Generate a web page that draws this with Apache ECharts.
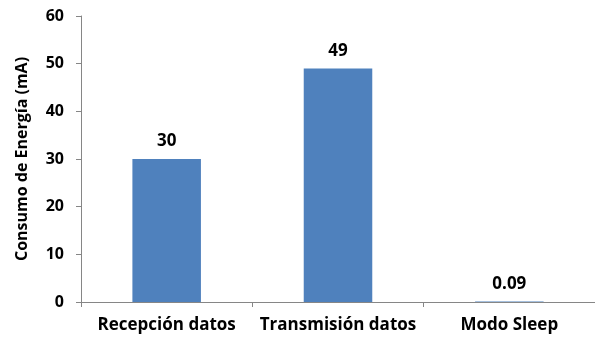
<!DOCTYPE html>
<html>
<head>
<meta charset="utf-8">
<script src="https://cdn.jsdelivr.net/npm/echarts@6/dist/echarts.min.js"></script>
<style>
  html, body { margin: 0; padding: 0; background: #fff; }
  #chart { width: 595px; height: 338px; }
</style>
</head>
<body>
<div id="chart"></div>
<script>
// Current draw per operating mode of the node
const categories = ['Recepción datos', 'Transmisión datos', 'Modo Sleep'];
const consumo = [30, 49, 0.09];
const yTicks = { min: 0, max: 60, interval: 10 };
const yTitle = 'Consumo de Energía (mA)';

const FONT = '"Open Sans", Lato, sans-serif';
const AXIS_GREY = '#868686';

const chart = echarts.init(document.getElementById('chart'), null, { renderer: 'canvas' });
chart.setOption({
  animation: false,
  grid: { left: 81, right: -2, top: 16, bottom: 36 },
  xAxis: {
    type: 'category',
    data: categories,
    axisLine: { lineStyle: { color: AXIS_GREY, width: 1 } },
    axisTick: { show: true, length: 5, lineStyle: { color: AXIS_GREY } },
    axisLabel: {
      interval: 0, hideOverlap: false,
      color: '#000', fontFamily: FONT, fontWeight: 'bold', fontSize: 17, margin: 15
    }
  },
  yAxis: {
    type: 'value',
    min: yTicks.min, max: yTicks.max, interval: yTicks.interval,
    name: yTitle,
    nameLocation: 'middle',
    nameGap: 51,
    nameTextStyle: { color: '#000', fontFamily: FONT, fontWeight: 'bold', fontSize: 16 },
    axisLine: { show: true, lineStyle: { color: AXIS_GREY, width: 1 } },
    axisTick: { show: true, length: 5, lineStyle: { color: AXIS_GREY } },
    splitLine: { show: false },
    axisLabel: {
      color: '#000', fontFamily: FONT, fontWeight: 'bold', fontSize: 16, margin: 17
    }
  },
  series: [{
    type: 'bar',
    data: consumo,
    barWidth: '40%',
    itemStyle: { color: '#4F81BD' },
    label: {
      show: true, position: 'top', distance: 9,
      color: '#000', fontFamily: FONT, fontWeight: 'bold', fontSize: 17,
      formatter: p => String(p.value)
    }
  }]
});
</script>
</body>
</html>
